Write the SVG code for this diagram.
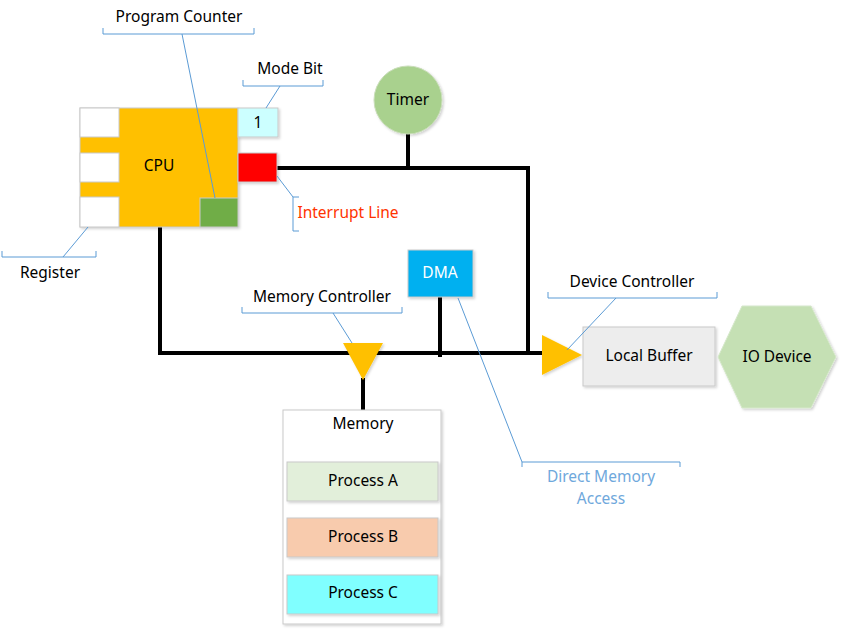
<svg xmlns="http://www.w3.org/2000/svg" width="842" height="632" viewBox="0 0 842 632">
<defs>
<style>
text{font-family:"Noto Sans","Liberation Sans",sans-serif;font-size:15.5px;fill:#000;text-anchor:middle;dominant-baseline:central}
.box{stroke:#C9C9C9;stroke-width:1}
.wire{stroke:#000;stroke-width:4;fill:none;stroke-linecap:square}
.call{stroke:#5B9BD5;stroke-width:1;fill:none}
</style>
<filter id="sh" x="-10%" y="-10%" width="130%" height="130%"><feDropShadow dx="1.5" dy="1.5" stdDeviation="1.2" flood-color="#000" flood-opacity="0.18"/></filter>
</defs>
<rect width="842" height="632" fill="#fff"/>

<g id="connectors">
<polyline class="wire" points="277,168 528,168 528,353"/>
<line class="wire" x1="408" y1="133" x2="408" y2="168"/>
<polyline class="wire" points="160,227 160,353 543,353"/>
<line class="wire" x1="440" y1="297" x2="440" y2="355"/>
<line class="wire" x1="363" y1="380" x2="363" y2="409"/>
</g>

<g id="cpu">
<rect x="80" y="108" width="158" height="119" fill="#FFC000" class="box" filter="url(#sh)"/>
<rect x="80" y="108" width="39" height="29" fill="#fff" class="box"/>
<rect x="80" y="153" width="39" height="29" fill="#fff" class="box"/>
<rect x="80" y="197" width="39" height="30" fill="#fff" class="box"/>
<rect x="200" y="198" width="38" height="29" fill="#70AD47" class="box"/>
<text x="159" y="165">CPU</text>
</g>
<g id="mode-bit-box">
<rect x="238" y="108" width="40" height="29" fill="#CCFFFF" class="box" filter="url(#sh)"/>
<text x="258" y="122">1</text>
</g>
<g id="interrupt-box">
<rect x="238" y="153" width="39" height="29" fill="#FF0000" class="box" filter="url(#sh)"/>
</g>
<g id="timer">
<circle cx="408" cy="100" r="34" fill="#A9D18E" stroke="#C9DDB9" stroke-width="1" filter="url(#sh)"/>
<text x="408" y="99">Timer</text>
</g>
<g id="dma">
<rect x="408" y="250" width="65" height="47" fill="#00B0F0" class="box" filter="url(#sh)"/>
<text x="440" y="272" style="fill:#fff">DMA</text>
</g>
<g id="memory-controller">
<polygon points="343,343 383,343 363,380" fill="#FFC000" filter="url(#sh)"/>
</g>
<g id="device-controller">
<polygon points="542,335 542,375 582,355" fill="#FFC000" filter="url(#sh)"/>
</g>
<g id="local-buffer">
<rect x="583" y="327" width="132" height="59" fill="#EDEDED" class="box" filter="url(#sh)"/>
<text x="649" y="355">Local Buffer</text>
</g>
<g id="io-device">
<polygon points="718,357 742,306 811,306 836,357 811,408 742,408" fill="#C5E0B4" stroke="#D6E8CB" stroke-width="1" filter="url(#sh)"/>
<text x="777" y="356">IO Device</text>
</g>
<g id="memory">
<rect x="283" y="410" width="158" height="214" fill="#fff" class="box" filter="url(#sh)"/>
<text x="363" y="423">Memory</text>
</g>
<g id="process-a">
<rect x="287" y="462" width="151" height="39" fill="#E2EFDA" class="box" filter="url(#sh)"/>
<text x="363" y="480">Process A</text>
</g>
<g id="process-b">
<rect x="287" y="518" width="151" height="39" fill="#F8CBAD" class="box" filter="url(#sh)"/>
<text x="363" y="536">Process B</text>
</g>
<g id="process-c">
<rect x="287" y="575" width="151" height="39" fill="#80FFFF" class="box" filter="url(#sh)"/>
<text x="363" y="592">Process C</text>
</g>

<g id="callouts">
<g id="callout-program-counter">
<polyline class="call" points="103,28 103,34 254,34 254,28"/>
<line class="call" x1="182" y1="34" x2="215" y2="198"/>
<text x="179" y="16">Program Counter</text>
</g>
<g id="callout-mode-bit">
<polyline class="call" points="243,80 243,86 323,86 323,80"/>
<line class="call" x1="280" y1="86" x2="266" y2="108"/>
<text x="290" y="68">Mode Bit</text>
</g>
<g id="callout-register">
<polyline class="call" points="2,251 2,257 96,257 96,251"/>
<line class="call" x1="63" y1="257" x2="88" y2="227"/>
<text x="50" y="272">Register</text>
</g>
<g id="callout-interrupt">
<polyline class="call" points="299,197 293,197 293,231 299,231"/>
<line class="call" x1="277" y1="176" x2="293" y2="197"/>
<text x="348" y="212" style="fill:#FF3300">Interrupt Line</text>
</g>
<g id="callout-memory-controller">
<polyline class="call" points="242,307 242,313 402,313 402,307"/>
<line class="call" x1="333" y1="313" x2="352" y2="343"/>
<text x="322" y="296">Memory Controller</text>
</g>
<g id="callout-device-controller">
<polyline class="call" points="548,292 548,298 717,298 717,292"/>
<line class="call" x1="616" y1="298" x2="567" y2="350"/>
<text x="632" y="281">Device Controller</text>
</g>
<g id="callout-dma">
<polyline class="call" points="522,467 522,462 680,462 680,467"/>
<line class="call" x1="458" y1="298" x2="522" y2="462"/>
<text x="601" y="476" style="fill:#6FA8DC">Direct Memory</text>
<text x="601" y="498" style="fill:#6FA8DC">Access</text>
</g>
</g>
</svg>
